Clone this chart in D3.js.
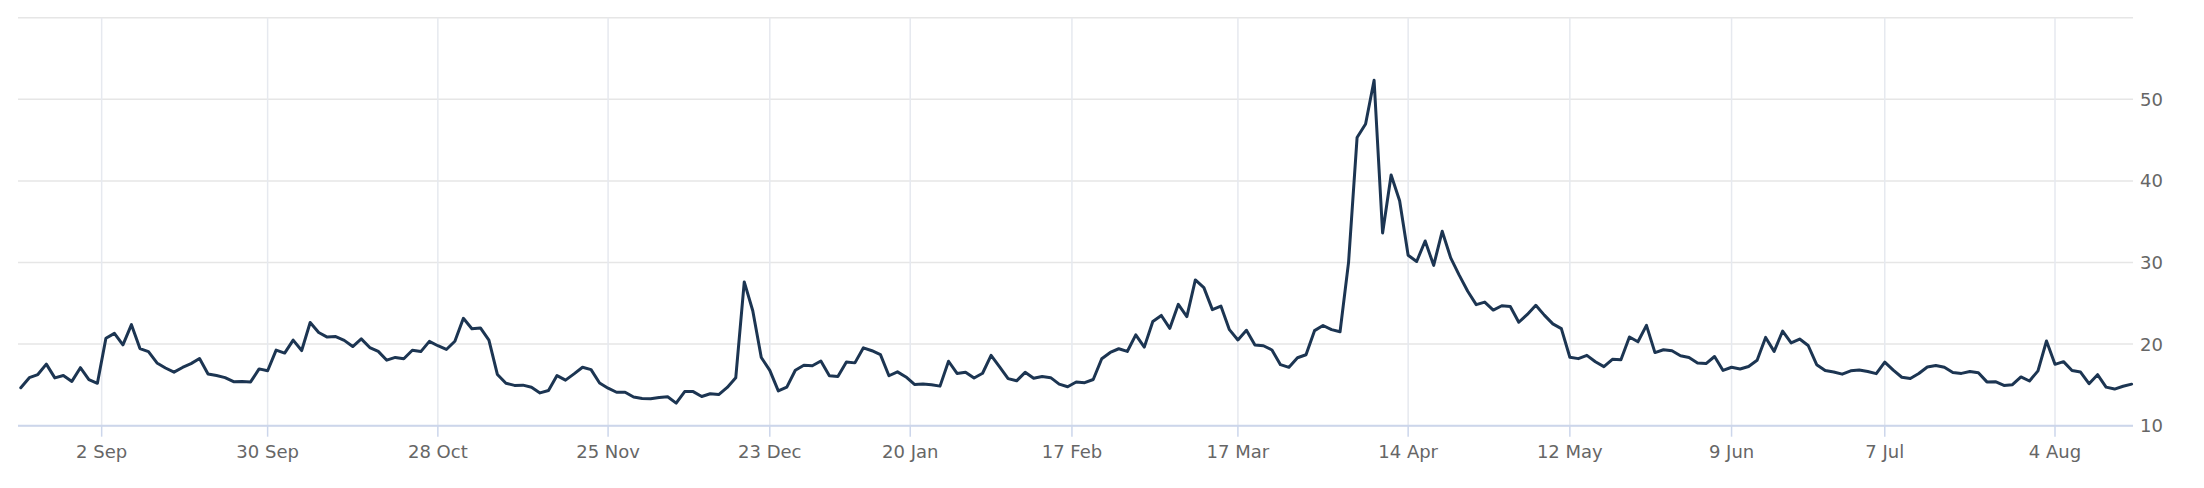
<!DOCTYPE html>
<html>
<head>
<meta charset="utf-8">
<script src="https://cdn.jsdelivr.net/npm/d3@7/dist/d3.min.js"></script>
<style>
  html, body { margin: 0; padding: 0; background: #ffffff; }
  svg { display: block; }
</style>
</head>
<body>
<svg id="chart" width="2204" height="488"></svg>
<script>
// ---- data: trading days (ordinal axis) and closing values ----
const dates = [
  "2024-08-19","2024-08-20","2024-08-21","2024-08-22","2024-08-23","2024-08-26","2024-08-27","2024-08-28","2024-08-29","2024-08-30",
  "2024-09-03","2024-09-04","2024-09-05","2024-09-06","2024-09-09","2024-09-10","2024-09-11","2024-09-12","2024-09-13","2024-09-16",
  "2024-09-17","2024-09-18","2024-09-19","2024-09-20","2024-09-23","2024-09-24","2024-09-25","2024-09-26","2024-09-27","2024-09-30",
  "2024-10-01","2024-10-02","2024-10-03","2024-10-04","2024-10-07","2024-10-08","2024-10-09","2024-10-10","2024-10-11","2024-10-14",
  "2024-10-15","2024-10-16","2024-10-17","2024-10-18","2024-10-21","2024-10-22","2024-10-23","2024-10-24","2024-10-25","2024-10-28",
  "2024-10-29","2024-10-30","2024-10-31",
  "2024-11-01","2024-11-04","2024-11-05","2024-11-06","2024-11-07","2024-11-08","2024-11-11","2024-11-12","2024-11-13","2024-11-14",
  "2024-11-15","2024-11-18","2024-11-19","2024-11-20","2024-11-21","2024-11-22","2024-11-25","2024-11-26","2024-11-27","2024-11-29",
  "2024-12-02","2024-12-03","2024-12-04","2024-12-05","2024-12-06","2024-12-09","2024-12-10","2024-12-11","2024-12-12","2024-12-13",
  "2024-12-16","2024-12-17","2024-12-18","2024-12-19","2024-12-20","2024-12-23","2024-12-24","2024-12-26","2024-12-27","2024-12-30",
  "2024-12-31",
  "2025-01-02","2025-01-03","2025-01-06","2025-01-07","2025-01-08","2025-01-10","2025-01-13","2025-01-14","2025-01-15","2025-01-16",
  "2025-01-17","2025-01-21","2025-01-22","2025-01-23","2025-01-24","2025-01-27","2025-01-28","2025-01-29","2025-01-30","2025-01-31",
  "2025-02-03","2025-02-04","2025-02-05","2025-02-06","2025-02-07","2025-02-10","2025-02-11","2025-02-12","2025-02-13","2025-02-14",
  "2025-02-18","2025-02-19","2025-02-20","2025-02-21","2025-02-24","2025-02-25","2025-02-26","2025-02-27","2025-02-28",
  "2025-03-03","2025-03-04","2025-03-05","2025-03-06","2025-03-07","2025-03-10","2025-03-11","2025-03-12","2025-03-13","2025-03-14",
  "2025-03-17","2025-03-18","2025-03-19","2025-03-20","2025-03-21","2025-03-24","2025-03-25","2025-03-26","2025-03-27","2025-03-28",
  "2025-03-31",
  "2025-04-01","2025-04-02","2025-04-03","2025-04-04","2025-04-07","2025-04-08","2025-04-09","2025-04-10","2025-04-11","2025-04-14",
  "2025-04-15","2025-04-16","2025-04-17","2025-04-21","2025-04-22","2025-04-23","2025-04-24","2025-04-25","2025-04-28","2025-04-29",
  "2025-04-30",
  "2025-05-01","2025-05-02","2025-05-05","2025-05-06","2025-05-07","2025-05-08","2025-05-09","2025-05-12","2025-05-13","2025-05-14",
  "2025-05-15","2025-05-16","2025-05-19","2025-05-20","2025-05-21","2025-05-22","2025-05-23","2025-05-27","2025-05-28","2025-05-29",
  "2025-05-30",
  "2025-06-02","2025-06-03","2025-06-04","2025-06-05","2025-06-06","2025-06-09","2025-06-10","2025-06-11","2025-06-12","2025-06-13",
  "2025-06-16","2025-06-17","2025-06-18","2025-06-20","2025-06-23","2025-06-24","2025-06-25","2025-06-26","2025-06-27","2025-06-30",
  "2025-07-01","2025-07-02","2025-07-03","2025-07-07","2025-07-08","2025-07-09","2025-07-10","2025-07-11","2025-07-14","2025-07-15",
  "2025-07-16","2025-07-17","2025-07-18","2025-07-21","2025-07-22","2025-07-23","2025-07-24","2025-07-25","2025-07-28","2025-07-29",
  "2025-07-30","2025-07-31",
  "2025-08-01","2025-08-04","2025-08-05","2025-08-06","2025-08-07","2025-08-08","2025-08-11","2025-08-12","2025-08-13","2025-08-14",
  "2025-08-15"
];

const values = [
  14.65,15.88,16.27,17.55,15.86,16.15,15.43,17.11,15.65,15.20,
  20.72,21.32,19.90,22.38,19.45,19.08,17.69,17.07,16.56,17.14,
  17.61,18.23,16.33,16.15,15.89,15.39,15.41,15.37,16.96,16.73,
  19.26,18.90,20.49,19.21,22.64,21.42,20.86,20.93,20.46,19.70,
  20.64,19.58,19.11,18.03,18.37,18.20,19.24,19.08,20.33,19.80,
  19.34,20.35,23.16,
  21.88,21.98,20.49,16.27,15.20,14.94,14.97,14.71,14.02,14.31,
  16.14,15.58,16.35,17.16,16.87,15.24,14.60,14.10,14.10,13.51,
  13.34,13.30,13.45,13.54,12.77,14.18,14.18,13.58,13.92,13.81,
  14.69,15.87,27.62,24.09,18.36,16.78,14.27,14.73,16.80,17.40,
  17.35,
  17.93,16.13,16.04,17.82,17.70,19.54,19.19,18.71,16.12,16.60,
  15.97,15.06,15.10,15.02,14.85,17.90,16.41,16.56,15.84,16.43,
  18.62,17.21,15.77,15.50,16.54,15.81,16.02,15.89,15.10,14.77,
  15.35,15.27,15.66,18.21,18.98,19.43,19.10,21.13,19.63,
  22.78,23.51,21.93,24.87,23.37,27.86,26.92,24.23,24.66,21.77,
  20.51,21.70,19.90,19.80,19.28,17.48,17.15,18.33,18.69,21.65,
  22.28,
  21.77,21.51,30.02,45.31,46.98,52.33,33.62,40.72,37.56,30.89,
  30.12,32.64,29.65,33.82,30.57,28.45,26.47,24.84,25.15,24.17,
  24.70,
  24.60,22.68,23.64,24.76,23.55,22.48,21.90,18.39,18.22,18.62,
  17.83,17.24,18.14,18.09,20.87,20.28,22.29,18.96,19.31,19.18,
  18.57,
  18.36,17.69,17.61,18.48,16.77,17.16,16.95,17.26,18.02,20.82,
  19.11,21.60,20.14,20.62,19.83,17.48,16.76,16.59,16.32,16.73,
  16.83,16.64,16.38,17.79,16.81,15.94,15.78,16.40,17.20,17.38,
  17.16,16.52,16.41,16.65,16.50,15.37,15.39,14.93,15.03,15.98,
  15.48,16.72,
  20.38,17.52,17.85,16.77,16.57,15.15,16.25,14.73,14.49,14.83,
  15.09
];

const tickDates = [
  "2024-09-02","2024-09-30","2024-10-28","2024-11-25","2024-12-23","2025-01-20","2025-02-17",
  "2025-03-17","2025-04-14","2025-05-12","2025-06-09","2025-07-07","2025-08-04"
];
const yTickValues = [10, 20, 30, 40, 50];
const yGridValues = [10, 20, 30, 40, 50, 60];

// ---- layout & styles ----
const plotLeft = 18, plotRight = 2133;
const xScale = d3.scaleLinear().domain([0, dates.length - 1]).range([20.8, 2131.6]);
const yScale = d3.scaleLinear().domain([10, 60]).range([425.7, 17.7]);

const parse = d3.utcParse("%Y-%m-%d");
const fmt = d3.utcFormat("%-d %b");
const dateObjs = dates.map(parse);

// ordinal position of a calendar date: index if trading day, else midway between neighbours
function ordinalPos(dStr) {
  const t = parse(dStr);
  const i = d3.bisectLeft(dateObjs, t);
  if (i < dateObjs.length && +dateObjs[i] === +t) return i;
  return i - 0.5;
}

const svg = d3.select("#chart");
svg.append("rect").attr("width", 2204).attr("height", 488).attr("fill", "#ffffff");

// horizontal grid
svg.append("g").selectAll("line").data(yGridValues).join("line")
  .attr("x1", plotLeft).attr("x2", plotRight)
  .attr("y1", d => yScale(d)).attr("y2", d => yScale(d))
  .attr("stroke", "#e6e6e6").attr("stroke-width", 1.5);

// vertical grid
const tickPos = tickDates.map(d => ({ d, p: xScale(ordinalPos(d)) }));
svg.append("g").selectAll("line").data(tickPos).join("line")
  .attr("x1", d => d.p).attr("x2", d => d.p)
  .attr("y1", yScale(60)).attr("y2", yScale(10))
  .attr("stroke", "#e6e9ef").attr("stroke-width", 1.5);

// x axis line + tick marks
svg.append("line")
  .attr("x1", plotLeft).attr("x2", plotRight)
  .attr("y1", yScale(10)).attr("y2", yScale(10))
  .attr("stroke", "#ccd6eb").attr("stroke-width", 2);
svg.append("g").selectAll("line").data(tickPos).join("line")
  .attr("x1", d => d.p).attr("x2", d => d.p)
  .attr("y1", yScale(10)).attr("y2", yScale(10) + 11)
  .attr("stroke", "#ccd6eb").attr("stroke-width", 1.5);

// series line
const line = d3.line().x((d, i) => xScale(i)).y(d => yScale(d));
svg.append("path").datum(values)
  .attr("d", line)
  .attr("fill", "none")
  .attr("stroke", "#1c3552")
  .attr("stroke-width", 3)
  .attr("stroke-linejoin", "round")
  .attr("stroke-linecap", "round");

// x labels
svg.append("g").selectAll("text").data(tickPos).join("text")
  .attr("x", d => d.p).attr("y", yScale(10) + 32)
  .attr("text-anchor", "middle")
  .attr("font-family", "DejaVu Sans, sans-serif")
  .attr("font-size", 18)
  .attr("fill", "#666666")
  .text(d => fmt(parse(d.d)));

// y labels (right side)
svg.append("g").selectAll("text").data(yTickValues).join("text")
  .attr("x", 2140).attr("y", d => yScale(d) + 6.5)
  .attr("text-anchor", "start")
  .attr("font-family", "DejaVu Sans, sans-serif")
  .attr("font-size", 18)
  .attr("fill", "#666666")
  .text(d => d);
</script>
</body>
</html>
